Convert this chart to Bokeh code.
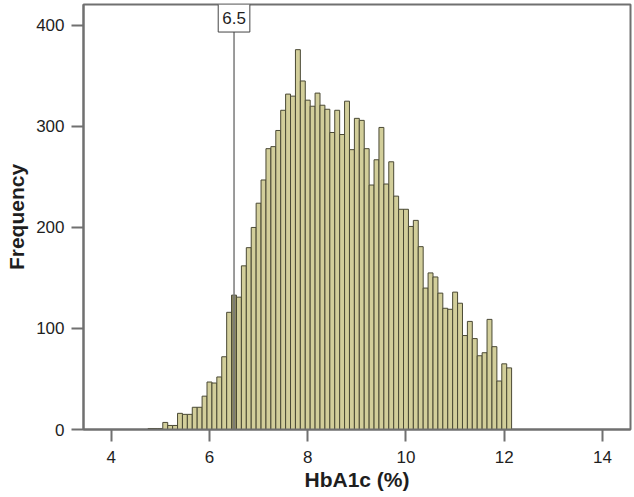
from bokeh.plotting import figure
from bokeh.models import Range1d, FixedTicker, Label, ColumnDataSource
from bokeh.embed import file_html
from bokeh.resources import INLINE

# ---- data ----
bin_width = 0.1
bin_centers = [round(4.8 + 0.1 * i, 1) for i in range(74)]
counts = [
    1, 1, 1, 7, 4, 4, 16, 15, 15, 22,          # 4.8 - 5.7
    22, 33, 47, 46, 52, 72, 116, 133, 131, 162,  # 5.8 - 6.7
    180, 200, 224, 247, 278, 280, 296, 316, 332, 330,  # 6.8 - 7.7
    376, 345, 326, 320, 333, 321, 317, 294, 316, 292,  # 7.8 - 8.7
    325, 277, 308, 306, 278, 242, 267, 299, 243, 265,  # 8.8 - 9.7
    231, 218, 218, 201, 207, 181, 140, 155, 151, 135,  # 9.8 - 10.7
    120, 119, 136, 125, 93, 107, 90, 73, 76, 109,      # 10.8 - 11.7
    82, 48, 65, 61,                                    # 11.8 - 12.1
]
threshold = 6.5
x_ticks = [4, 6, 8, 10, 12, 14]
y_ticks = [0, 100, 200, 300, 400]

BAR_FILL = "#d2ce9a"
BAR_DARK = "#8c8961"
BAR_LINE = "#4a4934"
AXIS_COL = "#707070"
TEXT_COL = "#1e1e1e"
FONT = "Liberation Sans"

fills = [BAR_DARK if abs(c - threshold) < 1e-9 else BAR_FILL for c in bin_centers]
src = ColumnDataSource(dict(x=bin_centers, top=counts, fill=fills))

p = figure(width=634, height=497, output_backend="svg", toolbar_location=None,
           x_range=Range1d(3.436, 14.57), y_range=Range1d(0, 420.7),
           min_border_left=83, min_border_right=4, min_border_top=4,
           min_border_bottom=68)

p.vbar(x="x", top="top", bottom=0, width=bin_width, source=src,
       fill_color="fill", line_color=BAR_LINE, line_width=1)

# threshold line and label
p.segment(x0=[threshold], y0=[0], x1=[threshold], y1=[394],
          line_color="#7a7a7a", line_width=1.5)
lab = Label(x=threshold, y=407.3, text=f"{threshold}", text_align="center",
            text_baseline="middle", text_font=FONT, text_font_size="17px",
            text_color=TEXT_COL, background_fill_color="white",
            border_line_color="#444444", border_line_width=1, padding=(4, 8))
p.add_layout(lab)

p.xgrid.visible = False
p.ygrid.visible = False
p.outline_line_color = AXIS_COL
p.outline_line_width = 2
p.outline_line_alpha = 1

for ax in (p.xaxis[0], p.yaxis[0]):
    ax.axis_line_color = AXIS_COL
    ax.axis_line_width = 2
    ax.major_tick_line_color = AXIS_COL
    ax.major_tick_line_width = 2
    ax.major_tick_out = 12
    ax.major_tick_in = 0
    ax.minor_tick_line_color = None
    ax.major_label_text_font = FONT
    ax.major_label_text_font_size = "17px"
    ax.major_label_text_color = TEXT_COL
    ax.axis_label_text_font = FONT
    ax.axis_label_text_font_style = "bold"
    ax.axis_label_text_font_size = "21px"
    ax.axis_label_text_color = TEXT_COL

p.xaxis.ticker = FixedTicker(ticks=x_ticks)
p.yaxis.ticker = FixedTicker(ticks=y_ticks)
p.xaxis.axis_label = "HbA1c (%)"
p.yaxis.axis_label = "Frequency"
p.xaxis.major_label_standoff = 9
p.yaxis.major_label_standoff = 7
p.xaxis.axis_label_standoff = 2
p.yaxis.axis_label_standoff = 5

p.background_fill_color = "white"
p.border_fill_color = "white"

open("out.html", "w").write(file_html(p, INLINE))
